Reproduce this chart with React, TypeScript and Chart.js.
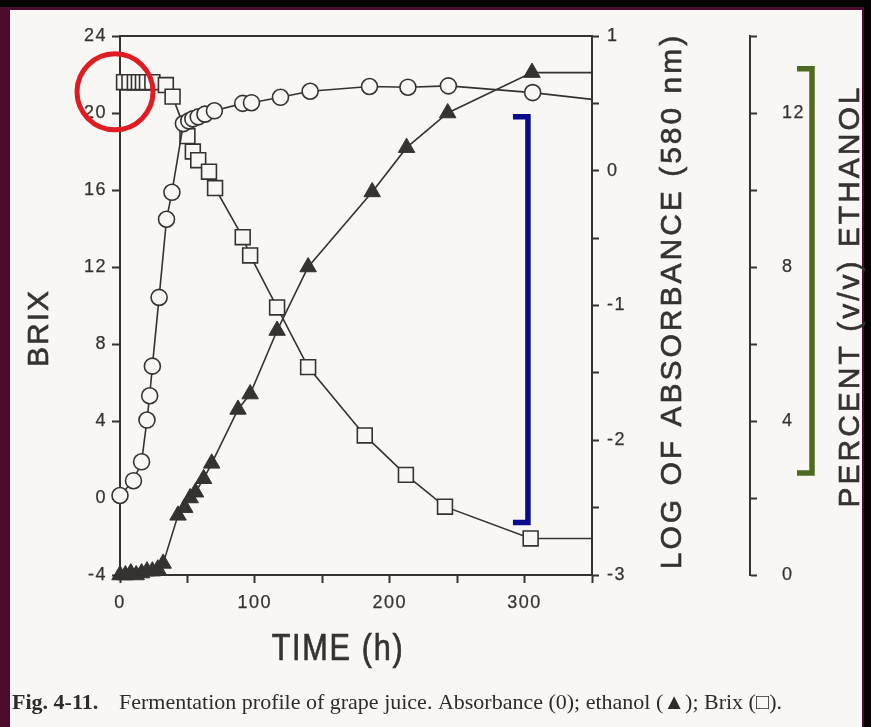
import { useEffect, useRef } from 'react';
import { Chart, registerables } from 'chart.js';

Chart.register(...registerables);

// Absorbance (log, 580 nm) — open circles, right inner axis
const absTimes = [0, 10, 16, 20, 22, 24, 29, 34.5, 38.5, 47, 51, 54, 58, 63, 70, 91, 97.5, 119, 141, 185, 213.5, 243.5, 306, 350];
const absValues = [-2.41, -2.3, -2.16, -1.85, -1.67, -1.45, -0.94, -0.36, -0.16, 0.35, 0.37, 0.385, 0.4, 0.42, 0.445, 0.5, 0.505, 0.545, 0.59, 0.625, 0.62, 0.63, 0.58, 0.53];

// Brix — open squares, left axis
const brixTimes = [3, 7, 11, 14, 17, 20, 24, 34, 39, 50, 54, 58, 66, 70.5, 91, 96.5, 116.5, 139.5, 181.5, 212, 241, 304.5, 350];
const brixValues = [21.6, 21.6, 21.6, 21.6, 21.6, 21.6, 21.6, 21.45, 20.85, 18.8, 18.0, 17.55, 16.95, 16.1, 13.55, 12.6, 9.9, 6.8, 3.25, 1.2, -0.45, -2.1, -2.1];

// Ethanol % (v/v) — filled triangles, outer right axis
const ethTimes = [0, 4, 8, 12, 16, 20, 24, 28, 32, 43, 48, 52, 56, 62, 68, 87.5, 96.5, 116.5, 139.5, 187, 212.5, 243, 305.5, 350];
const ethValues = [0, 0, 0.05, 0, 0.05, 0.1, 0.1, 0.15, 0.3, 1.55, 1.75, 2.0, 2.15, 2.5, 2.9, 4.3, 4.7, 6.35, 8.0, 9.95, 11.1, 12.0, 13.05, 13.05];

// Axis ranges and tick labels
const timeRange = [0, 350];
const timeLabels = [0, 100, 200, 300];
const brixRange = [-4, 24];
const absRange = [-3, 1];
const ethRange = [0, 14];
const ethLabels = [0, 4, 8, 12];

const xTitle = 'TIME (h)';
const brixTitle = 'BRIX';
const absTitle = 'LOG OF ABSORBANCE (580 nm)';
const ethTitle = 'PERCENT (v/v) ETHANOL';
const captionLead = 'Fig. 4-11.';
const captionText = 'Fermentation profile of grape juice. Absorbance (0); ethanol (\u25B2); Brix (\u25A1).';

// Hand-drawn highlight marks, expressed in data units
const redRing = { t: -3.7, brix: 21.1 };
const blueBracket = { t: 302.5, top: 0.4, bottom: -2.61 };
const greenBracket = { top: 13.15, bottom: 2.65 };

const INK = '#353230';
const PAPER = '#f8f7f4';
const MAROON = '#4e0a2c';
const SANS = '"Liberation Sans", Arimo, Arial, sans-serif';
const SERIF = '"Liberation Serif", "Times New Roman", serif';

const pts = (xs: number[], ys: number[]) => xs.map((x, i) => ({ x, y: ys[i] }));
// the last entry only carries the line to the right-hand axis
const markerRadius = (n: number, r: number) => (c: any) => (c.dataIndex === n - 1 ? 0 : r);

const sheetPlugin = {
  id: 'sheet',
  beforeDraw(chart: any) {
    const { ctx, width, height } = chart;
    ctx.save();
    ctx.fillStyle = '#060304';
    ctx.fillRect(0, 0, width, height);
    ctx.fillStyle = MAROON;
    ctx.fillRect(0, 7, width - 7, height - 7);
    ctx.fillStyle = PAPER;
    ctx.fillRect(10, 10, width - 19, height - 10);
    ctx.restore();
    ctx.letterSpacing = '1.5px';
  },
  beforeDatasetsDraw(chart: any) {
    const { ctx, chartArea } = chart;
    ctx.letterSpacing = '0px';
    ctx.save();
    ctx.strokeStyle = INK;
    ctx.lineWidth = 2;
    ctx.beginPath();
    ctx.moveTo(chartArea.left, chartArea.top);
    ctx.lineTo(chartArea.right, chartArea.top);
    ctx.stroke();
    ctx.restore();
  },
  afterDraw(chart: any) {
    const { ctx, scales } = chart;
    const x = scales.x;
    const yB = scales.yBrix;
    const yA = scales.yAbs;
    const yE = scales.yEth;

    const vTitle = (text: string, cx: number, cy: number, size: number, spacing: number) => {
      ctx.save();
      ctx.translate(cx, cy);
      ctx.rotate(-Math.PI / 2);
      ctx.font = `${size}px ${SANS}`;
      ctx.letterSpacing = `${spacing}px`;
      ctx.fillStyle = INK;
      ctx.strokeStyle = INK;
      ctx.lineWidth = 0.6;
      ctx.textAlign = 'center';
      ctx.textBaseline = 'middle';
      ctx.fillText(text, 0, 0);
      ctx.strokeText(text, 0, 0);
      ctx.restore();
    };
    vTitle(brixTitle, yB.left + 40, 328, 30, 2);
    vTitle(absTitle, yA.left + 81, 301, 30, 3);
    vTitle(ethTitle, yE.left + 101, 296, 30, 3);

    // condensed x-axis title
    ctx.save();
    ctx.translate(338, x.bottom - 77);
    ctx.scale(0.85, 1);
    ctx.font = `36px ${SANS}`;
    ctx.letterSpacing = '2px';
    ctx.fillStyle = INK;
    ctx.strokeStyle = INK;
    ctx.lineWidth = 0.7;
    ctx.textAlign = 'center';
    ctx.textBaseline = 'middle';
    ctx.fillText(xTitle, 0, 0);
    ctx.strokeText(xTitle, 0, 0);
    ctx.restore();

    // caption
    ctx.save();
    ctx.letterSpacing = '0px';
    ctx.fillStyle = '#2e2c2a';
    ctx.textBaseline = 'middle';
    ctx.textAlign = 'left';
    ctx.font = `bold 22px ${SERIF}`;
    ctx.fillText(captionLead, 12, 703);
    ctx.font = `22px ${SERIF}`;
    ctx.fillText(captionText, 119, 703);
    ctx.restore();

    // highlight marks
    ctx.save();
    ctx.lineCap = 'butt';
    ctx.lineJoin = 'miter';
    ctx.strokeStyle = '#e11b22';
    ctx.lineWidth = 5;
    ctx.beginPath();
    ctx.arc(x.getPixelForValue(redRing.t), yB.getPixelForValue(redRing.brix), 38, 0, Math.PI * 2);
    ctx.stroke();

    const bracket = (bx: number, top: number, bottom: number, color: string) => {
      ctx.strokeStyle = color;
      ctx.lineWidth = 5.5;
      ctx.beginPath();
      ctx.moveTo(bx - 15, top);
      ctx.lineTo(bx, top);
      ctx.lineTo(bx, bottom);
      ctx.lineTo(bx - 15, bottom);
      ctx.stroke();
    };
    bracket(
      x.getPixelForValue(blueBracket.t),
      yA.getPixelForValue(blueBracket.top),
      yA.getPixelForValue(blueBracket.bottom),
      '#0b0b8e'
    );
    bracket(
      yE.left + 62,
      yE.getPixelForValue(greenBracket.top),
      yE.getPixelForValue(greenBracket.bottom),
      '#4f6a22'
    );
    ctx.restore();
  },
};

const axisCommon = (tickLength: number, padding: number) => ({
  grid: { drawOnChartArea: false, drawTicks: true, tickLength, tickWidth: 2, tickColor: INK },
  border: { display: true, color: INK, width: 2 },
  ticks: {
    color: INK,
    font: { family: SANS, size: 18 },
    padding,
    autoSkip: false,
    maxRotation: 0,
    textStrokeColor: INK,
    textStrokeWidth: 0.25,
  },
});

export default function App() {
  const ref = useRef<HTMLCanvasElement>(null);

  useEffect(() => {
    const canvas = ref.current;
    if (!canvas) return;

    const xAxis = axisCommon(8, 9);
    const bAxis = axisCommon(8, 5);
    const aAxis = axisCommon(7, 8);
    const eAxis = axisCommon(7, 25);

    const chart = new Chart(canvas, {
      type: 'line',
      data: {
        datasets: [
          {
            label: 'Absorbance',
            data: pts(absTimes, absValues),
            xAxisID: 'x',
            yAxisID: 'yAbs',
            borderColor: INK,
            borderWidth: 1.6,
            pointStyle: 'circle',
            pointRadius: markerRadius(absTimes.length, 8),
            pointBackgroundColor: PAPER,
            pointBorderColor: INK,
            pointBorderWidth: 1.6,
            tension: 0,
            clip: false,
            order: 0,
          },
          {
            label: 'Brix',
            data: pts(brixTimes, brixValues),
            xAxisID: 'x',
            yAxisID: 'yBrix',
            borderColor: INK,
            borderWidth: 1.6,
            pointStyle: 'rect',
            pointRadius: markerRadius(brixTimes.length, 10.5),
            pointBackgroundColor: PAPER,
            pointBorderColor: INK,
            pointBorderWidth: 1.6,
            tension: 0,
            clip: false,
            order: 1,
          },
          {
            label: 'Ethanol',
            data: pts(ethTimes, ethValues),
            xAxisID: 'x',
            yAxisID: 'yEth',
            borderColor: INK,
            borderWidth: 1.6,
            pointStyle: 'triangle',
            pointRadius: markerRadius(ethTimes.length, 9.5),
            pointBackgroundColor: INK,
            pointBorderColor: INK,
            pointBorderWidth: 1,
            tension: 0,
            clip: false,
            order: 2,
          },
        ],
      },
      options: {
        responsive: false,
        animation: false,
        devicePixelRatio: 1,
        events: [],
        layout: { padding: { top: 36, left: 0, right: 0, bottom: 0 } },
        plugins: { legend: { display: false }, tooltip: { enabled: false } },
        scales: {
          x: {
            type: 'linear',
            position: 'bottom',
            min: timeRange[0],
            max: timeRange[1],
            ...xAxis,
            ticks: {
              ...xAxis.ticks,
              stepSize: 50,
              callback: (v: any) => (timeLabels.includes(Number(v)) ? String(v) : ''),
            },
            afterFit: (s: any) => {
              s.height = 152;
            },
          },
          yBrix: {
            type: 'linear',
            position: 'left',
            min: brixRange[0],
            max: brixRange[1],
            ...bAxis,
            ticks: { ...bAxis.ticks, stepSize: 4 },
            afterFit: (s: any) => {
              s.width = 120;
            },
          },
          yAbs: {
            type: 'linear',
            position: 'right',
            weight: 1,
            min: absRange[0],
            max: absRange[1],
            ...aAxis,
            ticks: {
              ...aAxis.ticks,
              stepSize: 0.5,
              callback: (v: any) => (Number.isInteger(Number(v)) ? String(v) : ''),
            },
            afterFit: (s: any) => {
              s.width = 158;
            },
          },
          yEth: {
            type: 'linear',
            position: 'right',
            weight: 2,
            min: ethRange[0],
            max: ethRange[1],
            ...eAxis,
            ticks: {
              ...eAxis.ticks,
              stepSize: 2,
              callback: (v: any) => (ethLabels.includes(Number(v)) ? String(v) : ''),
            },
            afterFit: (s: any) => {
              s.width = 121;
            },
          },
        },
      },
      plugins: [sheetPlugin],
    } as any);

    return () => chart.destroy();
  }, []);

  return (
    <div style={{ position: 'fixed', left: 0, top: 0, width: 871, height: 727 }}>
      <canvas ref={ref} width={871} height={727} style={{ display: 'block', width: 871, height: 727 }} />
    </div>
  );
}
